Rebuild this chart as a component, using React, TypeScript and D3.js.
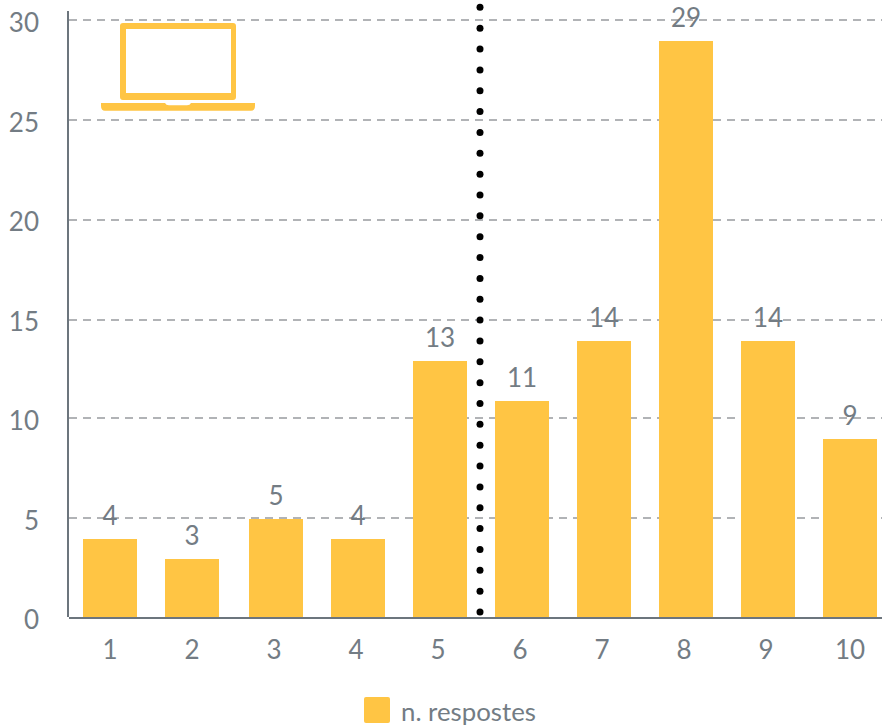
import React from "react";
import * as d3 from "d3";

const categories = ["1", "2", "3", "4", "5", "6", "7", "8", "9", "10"];
const values = [4, 3, 5, 4, 13, 11, 14, 29, 14, 9];
const yTicks = [0, 5, 10, 15, 20, 25, 30];
const seriesName = "n. respostes";
const YELLOW = "#ffc544";
const GREY = "#737c84";
const AXIS = "#6c757d";
const FONT = "Lato, sans-serif";

export default function App() {
  const index = categories.map((_, i) => i);
  const barX = d3.scaleLinear().domain([0, 1, 2, 9]).range([83, 165, 249, 823]);
  const barW = 54;
  const labelX = d3.scaleLinear().domain([0, 8, 9]).range([110, 766, 850]);
  const gridY = d3.scaleLinear().domain(yTicks).range([618, 518, 418, 320, 220, 120, 20]);
  const tickBaseY = d3.scaleLinear().domain([0, 30]).range([629, 32]);
  const barY = d3.scaleLinear().domain([0, 9, 11, 29]).range([619, 439, 401, 41]);
  const dots = d3.range(612, 0, -20.85);
  return (
    <svg width={882} height={727} style={{ position: "absolute", left: 0, top: 0, fontFamily: FONT }}>
      {yTicks.filter((t) => t > 0).map((t) => (
        <line key={t} x1={69} x2={882} y1={gridY(t)} y2={gridY(t)} stroke="#b1b3b6" strokeWidth={2} strokeDasharray="8 6" />
      ))}
      {index.map((i) => (
        <rect key={i} x={barX(i)} y={barY(values[i])} width={barW} height={618 - barY(values[i])} fill={YELLOW} />
      ))}
      <line x1={68} x2={68} y1={11} y2={617} stroke={AXIS} strokeWidth={2} />
      <line x1={69} x2={882} y1={618} y2={618} stroke={AXIS} strokeWidth={2} />
      {yTicks.map((t) => (
        <text key={t} x={39} y={tickBaseY(t)} textAnchor="end" fontSize={26} fill={GREY}>{t}</text>
      ))}
      {index.map((i) => (
        <text key={i} x={labelX(i)} y={659} textAnchor="middle" fontSize={26} fill={GREY}>{categories[i]}</text>
      ))}
      {index.map((i) => (
        <text key={i} x={barX(i) + barW / 2} y={barY(values[i]) - 14} textAnchor="middle" fontSize={26} fill={GREY}>{values[i]}</text>
      ))}
      {dots.map((d) => (
        <circle key={d} cx={480} cy={d} r={3.5} fill="#000" />
      ))}
      <g fill={YELLOW}>
        <path fillRule="evenodd" d="M123 23 H233 Q236 23 236 26 V97 Q236 100 233 100 H123 Q120 100 120 97 V26 Q120 23 123 23 Z M126 29 V93 H231 V29 Z" />
        <path d="M101 103 H165 Q166 105.3 169 105.3 H187 Q190 105.3 191 103 H255 V106 Q255 110.7 251 110.7 H105 Q101 110.7 101 106 Z" />
      </g>
      <rect x={364} y={697} width={26} height={26} rx={2} fill={YELLOW} />
      <text x={401} y={720.5} fontSize={25.8} fill={GREY}>{seriesName}</text>
    </svg>
  );
}
